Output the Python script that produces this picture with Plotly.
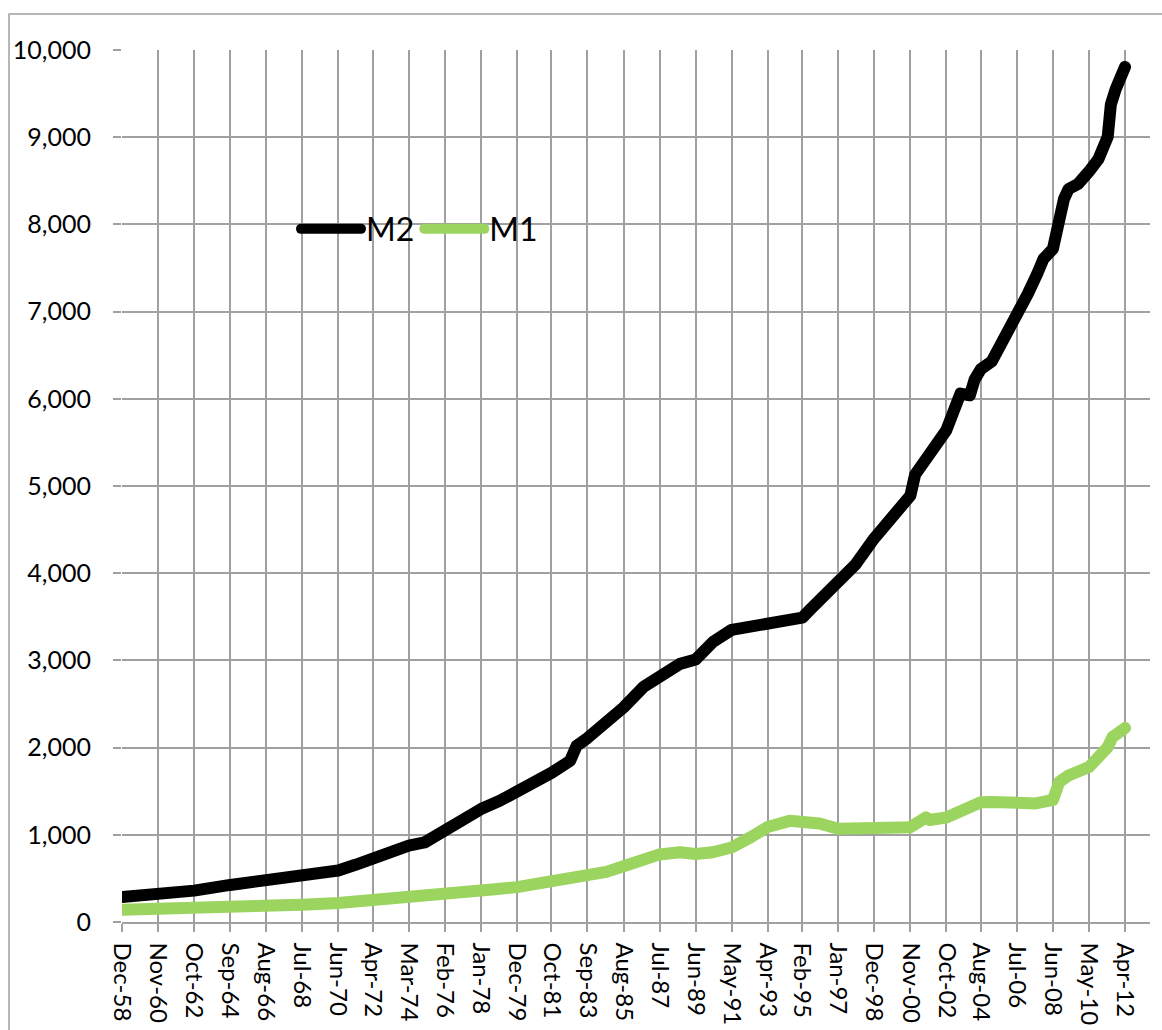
import pandas as pd
import plotly.graph_objects as go

# x-axis labels as they appear on the chart (every ~23 months)
tick_labels = ["Dec-58", "Nov-60", "Oct-62", "Sep-64", "Aug-66", "Jul-68", "Jun-70",
               "Apr-72", "Mar-74", "Feb-76", "Jan-78", "Dec-79", "Oct-81", "Sep-83",
               "Aug-85", "Jul-87", "Jun-89", "May-91", "Apr-93", "Feb-95", "Jan-97",
               "Dec-98", "Nov-00", "Oct-02", "Aug-04", "Jul-06", "Jun-08", "May-10",
               "Apr-12"]

# M2 money stock, billions
m2_dates = ["1958-12", "1960-11", "1962-10", "1964-09", "1966-08", "1968-07", "1969-09",
            "1970-06", "1971-05", "1972-04", "1973-04", "1974-03", "1975-01", "1976-02",
            "1977-01", "1978-01", "1979-01", "1979-12", "1980-11", "1981-10", "1982-10",
            "1983-02", "1983-09", "1984-09", "1985-08", "1986-09", "1987-07", "1988-08",
            "1989-06", "1990-05", "1991-05", "1992-07", "1993-04", "1994-03", "1995-02",
            "1995-07", "1996-01", "1997-01", "1997-12", "1998-12", "1999-12", "2000-11",
            "2001-02", "2001-09", "2002-10", "2003-07", "2004-01", "2004-04", "2004-08",
            "2005-03", "2005-09", "2006-07", "2007-02", "2007-08", "2007-12", "2008-06",
            "2008-10", "2009-01", "2009-04", "2009-10", "2010-05", "2010-11", "2011-05",
            "2011-07", "2011-10", "2012-01", "2012-04"]
m2_values = [286, 313, 360, 425, 488, 555, 575,
             590, 656, 735, 820, 876, 912, 1060,
             1190, 1295, 1390, 1490, 1600, 1710, 1850,
             2020, 2110, 2275, 2460, 2700, 2800, 2960,
             3010, 3210, 3350, 3400, 3420, 3460, 3490,
             3580, 3680, 3900, 4100, 4400, 4670, 4890,
             5130, 5330, 5640, 6060, 6040, 6220, 6340,
             6430, 6634, 6920, 7206, 7434, 7606, 7720,
             8063, 8291, 8406, 8463, 8606, 8749, 9006,
             9377, 9549, 9720, 9806]

# M1 money stock, billions
m1_dates = ["1958-12", "1960-11", "1962-10", "1964-09", "1966-08", "1968-07", "1970-06",
            "1972-04", "1974-03", "1976-02", "1978-01", "1978-10", "1979-12", "1981-10",
            "1983-09", "1984-09", "1985-08", "1986-06", "1987-01", "1987-07", "1988-08",
            "1989-06", "1990-05", "1991-05", "1992-05", "1993-04", "1994-06", "1995-02",
            "1996-01", "1997-01", "1998-01", "1998-12", "1999-12", "2000-11", "2001-09",
            "2001-11", "2002-10", "2003-08", "2004-08", "2005-03", "2006-07", "2007-07",
            "2008-06", "2008-10", "2009-04", "2009-10", "2010-05", "2010-11", "2011-05",
            "2011-08", "2012-04"]
m1_values = [140, 145, 153, 166, 179, 198, 218,
             246, 275, 302, 345, 375, 400, 460,
             540, 575, 640, 700, 760, 775, 800,
             780, 800, 855, 970, 1090, 1160, 1160,
             1130, 1070, 1080, 1095, 1110, 1088, 1200,
             1170, 1198, 1280, 1374, 1377, 1365, 1360,
             1400, 1606, 1680, 1720, 1777, 1891, 2006,
             2120, 2225]


def label_to_date(lbl):
    mon, yy = lbl.split("-")
    yy = int(yy)
    year = 1900 + yy if yy > 20 else 2000 + yy
    return pd.to_datetime(f"{mon} {year}", format="%b %Y")


tick_dates = [label_to_date(t) for t in tick_labels]

FONT = "Lato"
GRID = "#a0a0a0"
GREEN = "#9bd45e"

fig = go.Figure()
fig.add_trace(go.Scatter(x=pd.to_datetime(m2_dates), y=m2_values, name="M2",
                         mode="lines", line=dict(color="black", width=12)))
fig.add_trace(go.Scatter(x=pd.to_datetime(m1_dates), y=m1_values, name="M1",
                         mode="lines", line=dict(color=GREEN, width=12)))

# plot area: x 122..1150 px, y 50..921.7 px
W, H = 1162, 1030
L, R, T, B = 122, 12, 50, 108.3
pw, ph = W - L - R, H - T - B


def px(x):
    return (x - L) / pw


def py(y):
    return (H - B - y) / ph


fig.update_layout(
    width=W, height=H,
    margin=dict(l=L, r=R, t=T, b=B, autoexpand=False),
    plot_bgcolor="white", paper_bgcolor="white",
    font=dict(family=FONT, color="black"),
    showlegend=True,
    legend=dict(orientation="h", x=px(296), y=py(229), xanchor="left", yanchor="middle",
                bgcolor="rgba(0,0,0,0)", font=dict(size=32, family=FONT),
                itemwidth=60, tracegroupgap=0, traceorder="normal"),
    shapes=[
        # white legend box hiding gridlines
        dict(type="rect", xref="paper", yref="paper", x0=px(283), x1=px(540),
             y0=py(293), y1=py(163), fillcolor="white", line_width=0, layer="between"),
        # outer chart border (cut off at right/bottom)
        dict(type="rect", xref="paper", yref="paper", x0=px(9), x1=px(1180),
             y0=py(1050), y1=py(14), line=dict(color=GRID, width=1.5), layer="below"),
    ],
)

fig.update_xaxes(
    type="date", range=["1958-12-01", "2013-07-30"],
    tickvals=tick_dates, ticktext=tick_labels, tickangle=90,
    tickfont=dict(size=24, family=FONT, color="black"),
    showgrid=True, gridcolor=GRID, gridwidth=1.5,
    ticks="outside", ticklen=8, tickcolor=GRID, tickwidth=1.5,
    showline=True, linecolor=GRID, linewidth=1.5, zeroline=False,
    ticklabelstandoff=6,
)
fig.update_yaxes(
    range=[0, 10000], dtick=1000, tickformat=",",
    tickfont=dict(size=25, family=FONT, color="black"),
    showgrid=True, gridcolor=GRID, gridwidth=1.5,
    ticks="outside", ticklen=8, tickcolor=GRID, tickwidth=1.5,
    showline=False, zeroline=False, ticklabelstandoff=17,
)

# Excel draws the thick lines with rounded joins and caps
round_lines = """
document.body.style.margin='0';
document.querySelectorAll('.scatterlayer path.js-line, .legend path.js-line').forEach(function(p){
    p.style.strokeLinejoin = 'round';
    p.style.strokeLinecap = 'round';
});
"""
fig.write_html("out.html", post_script=round_lines, config={"displayModeBar": False})
